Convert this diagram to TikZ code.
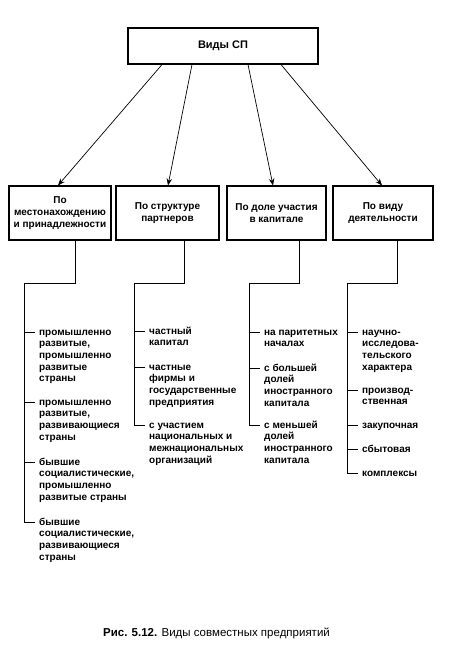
\documentclass[tikz,border=0pt]{standalone}
\usepackage{fontspec}
\setmainfont{Liberation Sans}
\usetikzlibrary{arrows.meta}
\newcommand{\itemtext}[1]{\parbox[t]{120pt}{\raggedright\fontsize{10}{11.7}\selectfont\bfseries #1}}
\tikzset{
  box/.style={draw, line width=1.1pt, inner sep=1pt, align=center, font=\fontsize{10}{12}\selectfont\bfseries},
  arr/.style={line width=0.7pt, -{Stealth[length=7pt,width=5.5pt]}},
  tree/.style={line width=0.9pt},
  itm/.style={anchor=base west, inner sep=0pt}
}
\begin{document}
\begin{tikzpicture}[x=1pt,y=-1pt]
\useasboundingbox (0,0) rectangle (448,657);
% top
\node[box, minimum width=190pt, minimum height=36pt, font=\fontsize{11}{12}\selectfont\bfseries] (top) at (223,46) {Виды СП};
% children
\node[box, minimum width=102pt, minimum height=54pt] (b1) at (60,213) {По\\местонахождению\\и принадлежности};
\node[box, minimum width=103pt, minimum height=54pt] (b2) at (167.5,213) {По структуре\\партнеров};
\node[box, minimum width=99pt, minimum height=54pt] (b3) at (276.5,213) {По доле участия\\в капитале};
\node[box, minimum width=100pt, minimum height=54pt] (b4) at (383,213) {По виду\\деятельности};
% arrows
\draw[arr] ([xshift=-61pt]top.south) -- ([xshift=-2pt]b1.north);
\draw[arr] ([xshift=-31pt]top.south) -- ([xshift=0.5pt]b2.north);
\draw[arr] ([xshift=25pt]top.south) -- ([xshift=-3.5pt]b3.north);
\draw[arr] ([xshift=58pt]top.south) -- ([xshift=-1pt]b4.north);
% items column 1
\node[itm] (i11) at (39,335) {\itemtext{промышленно\\развитые,\\промышленно\\развитые\\страны}};
\node[itm] (i12) at (39,405) {\itemtext{промышленно\\развитые,\\развивающиеся\\страны}};
\node[itm] (i13) at (39,465) {\itemtext{бывшие\\социалистические,\\промышленно\\развитые страны}};
\node[itm] (i14) at (39,525) {\itemtext{бывшие\\социалистические,\\развивающиеся\\страны}};
% items column 2
\node[itm] (i21) at (149,334) {\itemtext{частный\\капитал}};
\node[itm] (i22) at (149,370) {\itemtext{частные\\фирмы и\\государственные\\предприятия}};
\node[itm] (i23) at (149,428) {\itemtext{с участием\\национальных и\\межнациональных\\организаций}};
% items column 3
\node[itm] (i31) at (264,335) {\itemtext{на паритетных\\началах}};
\node[itm] (i32) at (264,371) {\itemtext{с большей\\долей\\иностранного\\капитала}};
\node[itm] (i33) at (264,428) {\itemtext{с меньшей\\долей\\иностранного\\капитала}};
% items column 4
\node[itm] (i41) at (362,335) {\itemtext{научно-\\исследова-\\тельского\\характера}};
\node[itm] (i42) at (362,393) {\itemtext{производ-\\ственная}};
\node[itm] (i43) at (362,428) {\itemtext{закупочная}};
\node[itm] (i44) at (362,452) {\itemtext{сбытовая}};
\node[itm] (i45) at (362,476) {\itemtext{комплексы}};
% tick coordinates
\foreach \n in {i11,i12,i13,i14,i21,i22,i23,i31,i32,i33,i41,i42,i43,i44,i45}{
  \coordinate (t\n) at ([shift={(-4pt,3pt)}]\n.base west);
  \coordinate (s\n) at ([shift={(-15pt,3pt)}]\n.base west);
}
% trees
\draw[tree] ([xshift=15pt]b1.south) |- (24,283) -- (si14) -- (ti14);
\foreach \n in {i11,i12,i13}{\draw[tree] (s\n) -- (t\n);}
\draw[tree] ([xshift=16.5pt]b2.south) |- (134,283) -- (si23) -- (ti23);
\foreach \n in {i21,i22}{\draw[tree] (s\n) -- (t\n);}
\draw[tree] ([xshift=22.5pt]b3.south) |- (249,283) -- (si33) -- (ti33);
\foreach \n in {i31,i32}{\draw[tree] (s\n) -- (t\n);}
\draw[tree] ([xshift=14pt]b4.south) |- (347,283) -- (si45) -- (ti45);
\foreach \n in {i41,i42,i43,i44}{\draw[tree] (s\n) -- (t\n);}
% caption
\node[anchor=base, inner sep=0pt, font=\fontsize{11.5}{12}\selectfont] (cap) at (216.5,636) {\textbf{Рис. 5.12.} Виды совместных предприятий};
\end{tikzpicture}
\end{document}
